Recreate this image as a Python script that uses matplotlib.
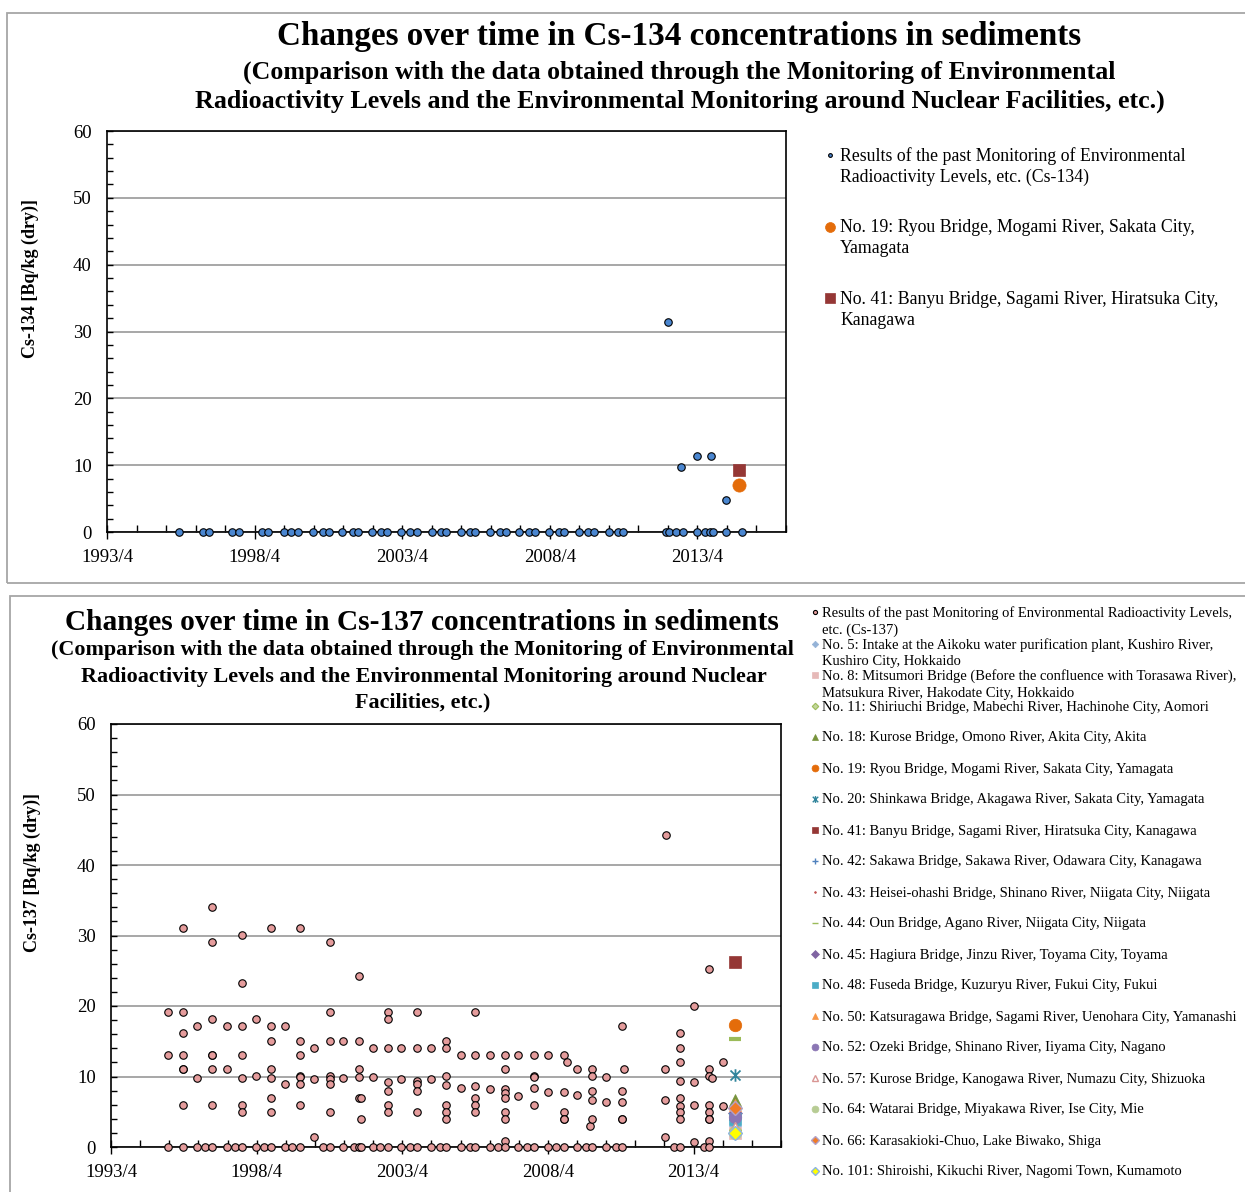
import matplotlib
matplotlib.use("Agg")
import matplotlib.pyplot as plt
from matplotlib.patches import Rectangle
from matplotlib.lines import Line2D
from matplotlib.path import Path

# ---------------- data ----------------
x_major = [1993.25, 1998.25, 2003.25, 2008.25, 2013.25]
x_labels = ["1993/4", "1998/4", "2003/4", "2008/4", "2013/4"]
x_minor = [1993.25 + i for i in range(24)]
y_major = [0, 10, 20, 30, 40, 50, 60]

# Cs-134, past monitoring results
cs134_past_dates = [1995.70, 1996.49, 1996.72, 1997.50, 1997.73, 1998.49, 1998.72, 1999.23,
                    1999.49, 1999.73, 2000.23, 2000.55, 2000.76, 2001.21, 2001.59, 2001.75,
                    2002.23, 2002.54, 2002.75, 2003.21, 2003.52, 2003.74, 2004.25, 2004.57,
                    2004.73, 2005.23, 2005.55, 2005.72, 2006.23, 2006.55, 2006.75, 2007.21,
                    2007.53, 2007.74, 2008.23, 2008.55, 2008.74, 2009.23, 2009.54, 2009.73,
                    2010.24, 2010.56, 2010.74, 2012.18, 2012.27, 2012.52, 2012.75, 2013.25,
                    2013.51, 2013.67, 2013.78, 2014.23, 2014.75,
                    2012.24, 2012.70, 2013.24, 2013.70, 2014.23]
cs134_past_values = [0, 0, 0, 0, 0, 0, 0, 0,
                     0, 0, 0, 0, 0, 0, 0, 0,
                     0, 0, 0, 0, 0, 0, 0, 0,
                     0, 0, 0, 0, 0, 0, 0, 0,
                     0, 0, 0, 0, 0, 0, 0, 0,
                     0, 0, 0, 0, 0, 0, 0, 0,
                     0, 0, 0, 0, 0,
                     31.4, 9.7, 11.4, 11.4, 4.8]

new_survey_date = 2014.67
cs134_sites = ["No. 19: Ryou Bridge, Mogami River, Sakata City,\nYamagata",
               "No. 41: Banyu Bridge, Sagami River, Hiratsuka City,\nKanagawa"]
cs134_new_values = [7.0, 9.3]

# Cs-137, past monitoring results (survey date -> values measured at that date)
cs137_past_dates = [1995.19, 1995.71, 1996.20, 1996.48, 1996.73, 1997.22, 1997.51, 1997.73,
                    1998.22, 1998.50, 1998.74, 1999.23, 1999.47, 1999.73, 2000.22, 2000.54,
                    2000.76, 2001.22, 2001.60, 2001.76, 2001.82, 2002.23, 2002.50, 2002.76,
                    2003.22, 2003.51, 2003.74, 2004.25, 2004.53, 2004.76, 2005.25, 2005.59,
                    2005.76, 2006.25, 2006.54, 2006.76, 2007.23, 2007.53, 2007.76, 2008.25,
                    2008.53, 2008.79, 2008.90, 2009.25, 2009.56, 2009.71, 2009.77, 2010.25,
                    2010.57, 2010.79, 2010.86, 2012.27, 2012.31, 2012.56, 2012.77, 2013.27,
                    2013.60, 2013.79, 2013.88, 2014.25]
cs137_past_values = [
    [19.1, 13.1, 0], [31.1, 19.1, 16.1, 13.1, 11.1, 11.1, 6.0, 0], [17.1, 9.8, 0], [0],
    [34.1, 29.1, 18.1, 13.1, 13.1, 11.1, 6.0, 0], [17.1, 11.1, 0], [0],
    [30.1, 23.2, 17.1, 13.1, 9.8, 6.0, 5.0, 0],
    [18.1, 10.1, 0], [0], [31.1, 17.1, 15.1, 11.1, 9.8, 7.0, 5.0, 0], [17.1, 9.0, 0], [0],
    [31.1, 15.1, 13.1, 10.1, 9.9, 9.0, 6.0, 0], [14.1, 9.6, 1.4], [0],
    [29.1, 19.1, 15.1, 10.1, 9.7, 9.0, 5.0, 0], [15.1, 9.8, 0], [0],
    [24.2, 15.1, 11.1, 9.9, 7.0, 0], [7.0, 4.0, 0], [14.1, 9.9, 0], [0],
    [19.1, 18.1, 14.1, 9.2, 8.0, 6.0, 5.0, 0],
    [14.1, 9.6, 0], [0], [19.1, 14.1, 9.4, 9.0, 8.0, 5.0, 0], [14.1, 9.6, 0], [0],
    [15.1, 14.1, 10.1, 8.8, 6.0, 5.0, 4.0, 0], [13.1, 8.4, 0], [0],
    [19.1, 13.1, 8.6, 7.0, 6.0, 5.0, 0], [13.1, 8.2, 0], [0],
    [13.1, 11.1, 8.2, 7.6, 7.0, 5.0, 4.0, 0.9, 0], [13.1, 7.2, 0], [0],
    [13.1, 10.1, 9.9, 8.4, 6.0, 0], [13.1, 7.8, 0],
    [0], [13.1, 7.8, 5.0, 4.0, 4.0, 0], [12.1], [11.1, 7.4, 0], [0], [3.0],
    [11.1, 10.1, 8.0, 6.6, 4.0, 0], [9.9, 6.4, 0],
    [0], [17.1, 8.0, 6.4, 4.0, 4.0, 0], [11.1], [11.1, 6.6, 1.4], [44.2], [0],
    [16.1, 14.1, 12.1, 9.4, 7.0, 5.8, 5.0, 4.0, 0], [20.0, 9.2, 6.0, 0.7],
    [0], [25.2, 11.1, 10.1, 6.0, 5.0, 4.0, 4.0, 0.9, 0], [9.8], [12.1, 5.8]]

cs137_sites = [
    "No. 5: Intake at the Aikoku water purification plant, Kushiro River,\nKushiro City, Hokkaido",
    "No. 8: Mitsumori Bridge (Before the confluence with Torasawa River),\nMatsukura River, Hakodate City, Hokkaido",
    "No. 11: Shiriuchi Bridge, Mabechi River, Hachinohe City, Aomori",
    "No. 18: Kurose Bridge, Omono River, Akita City, Akita",
    "No. 19: Ryou Bridge, Mogami River, Sakata City, Yamagata",
    "No. 20: Shinkawa Bridge, Akagawa River, Sakata City, Yamagata",
    "No. 41: Banyu Bridge, Sagami River, Hiratsuka City, Kanagawa",
    "No. 42: Sakawa Bridge, Sakawa River, Odawara City, Kanagawa",
    "No. 43: Heisei-ohashi Bridge, Shinano River, Niigata City, Niigata",
    "No. 44: Oun Bridge, Agano River, Niigata City, Niigata",
    "No. 45: Hagiura Bridge, Jinzu River, Toyama City, Toyama",
    "No. 48: Fuseda Bridge, Kuzuryu River, Fukui City, Fukui",
    "No. 50: Katsuragawa Bridge, Sagami River, Uenohara City, Yamanashi",
    "No. 52: Ozeki Bridge, Shinano River, Iiyama City, Nagano",
    "No. 57: Kurose Bridge, Kanogawa River, Numazu City, Shizuoka",
    "No. 64: Watarai Bridge, Miyakawa River, Ise City, Mie",
    "No. 66: Karasakioki-Chuo, Lake Biwako, Shiga",
    "No. 101: Shiroishi, Kikuchi River, Nagomi Town, Kumamoto"]
cs137_new_values = [3.0, 2.0, 2.4, 6.6, 17.3, 10.2, 26.3, 3.9, 3.5, 15.3,
                    4.8, 4.0, 5.9, 4.3, 2.8, 2.0, 5.6, 2.0]

past134_label = "Results of the past Monitoring of Environmental\nRadioactivity Levels, etc. (Cs-134)"
past137_label = "Results of the past Monitoring of Environmental Radioactivity Levels,\netc. (Cs-137)"

# ---------------- styles ----------------
W, H, DPI = 1245, 1192, 100
plt.rcParams['font.family'] = ['Liberation Serif', 'DejaVu Serif']

star = Path([(-1, -1), (1, 1), (-1, 1), (1, -1), (0, -1.25), (0, 1.25)],
            [Path.MOVETO, Path.LINETO] * 3)

past134_style = dict(marker='o', ms=5.4, mfc='#4A86D0', mec='black', mew=0.8)
past137_style = dict(marker='o', ms=5.4, mfc='#E59C9C', mec='black', mew=0.8)
cs134_new_styles = [dict(marker='o', ms=9.5, mfc='#E46C0A', mec='#E46C0A', mew=0.5),
                    dict(marker='s', ms=9.0, mfc='#953735', mec='#953735', mew=0.5)]
cs137_new_styles = [
    dict(marker='D', ms=6, mfc='#95B3D7', mec='#95B3D7', mew=0.5),
    dict(marker='s', ms=8, mfc='#E6B9B8', mec='#E6B9B8', mew=0.5),
    dict(marker='D', ms=6, mfc='#C3D69B', mec='#9BBB59', mew=0.8),
    dict(marker='^', ms=9, mfc='#77933C', mec='#77933C', mew=0.5),
    dict(marker='o', ms=9, mfc='#E46C0A', mec='#E46C0A', mew=0.5),
    dict(marker=star, ms=9, mfc='none', mec='#31859C', mew=1.3),
    dict(marker='s', ms=8.5, mfc='#953735', mec='#953735', mew=0.5),
    dict(marker='+', ms=8, mfc='none', mec='#4F81BD', mew=1.3),
    dict(marker='.', ms=3, mfc='#C0504D', mec='#C0504D', mew=0.5),
    dict(marker='_', ms=9, mfc='none', mec='#9BBB59', mew=3),
    dict(marker='D', ms=7, mfc='#8064A2', mec='#8064A2', mew=0.5),
    dict(marker='s', ms=8, mfc='#4BACC6', mec='#4BACC6', mew=0.5),
    dict(marker='^', ms=9, mfc='#F79646', mec='#F79646', mew=0.5),
    dict(marker='o', ms=9, mfc='#8B76B4', mec='#8B76B4', mew=0.5),
    dict(marker='^', ms=7, mfc='white', mec='#D99694', mew=1.0),
    dict(marker='o', ms=9, mfc='#B7CC94', mec='#B7CC94', mew=0.5),
    dict(marker='D', ms=7, mfc='#F07B26', mec='#B3A2C7', mew=1.0),
    dict(marker='D', ms=7, mfc='#FFFF00', mec='#8DB4E2', mew=1.0)]

fig = plt.figure(figsize=(W / DPI, H / DPI), dpi=DPI)
fig.patch.set_facecolor('white')
renderer = fig.canvas.get_renderer()


def fx(px):
    return px / W


def fy(py):
    return 1 - py / H


def fit_text(x, y, s, target_w, size=16, **kw):
    t = fig.text(fx(x), fy(y), s, ha='center', va='center', fontsize=size, **kw)
    bb = t.get_window_extent(renderer)
    t.set_fontsize(size * target_w / bb.width)
    return t


# panel borders
fig.add_artist(Rectangle((fx(7), fy(583)), fx(1300) - fx(7), fy(13) - fy(583),
                         transform=fig.transFigure, fill=False, ec='#a6a6a6', lw=1.3))
fig.add_artist(Rectangle((fx(10), fy(1250)), fx(1300) - fx(10), fy(596) - fy(1250),
                         transform=fig.transFigure, fill=False, ec='#a6a6a6', lw=1.3))


def style_axes(ax):
    ax.set_xlim(1993.25, 2016.25)
    ax.set_ylim(0, 60)
    ax.set_xticks(x_major)
    ax.set_xticklabels(x_labels)
    ax.set_xticks(x_minor, minor=True)
    ax.set_yticks(y_major)
    ax.set_yticks(list(range(0, 61, 2)), minor=True)
    ax.yaxis.grid(True, which='major', color='#a0a0a0', lw=1.3)
    ax.set_axisbelow(True)
    for sp in ax.spines.values():
        sp.set_color('black')
        sp.set_linewidth(1.2)
    ax.tick_params(axis='y', which='both', direction='in', length=4, width=1,
                   labelsize=13.5, pad=11, right=False)
    ax.tick_params(axis='x', which='major', direction='inout', length=10, width=1,
                   labelsize=13.5, pad=7, top=False)
    ax.tick_params(axis='x', which='minor', direction='in', length=5, width=1, top=False)


# ---------------- top chart (Cs-134) ----------------
ax1 = fig.add_axes([fx(107), fy(532), fx(786) - fx(107), fy(131) - fy(532)])
style_axes(ax1)
ax1.plot(cs134_past_dates, cs134_past_values, ls='none', clip_on=False, zorder=3,
         **past134_style)
for v, st in zip(cs134_new_values, cs134_new_styles):
    ax1.plot([new_survey_date], [v], ls='none', clip_on=False, zorder=4, **st)

fig.text(fx(30), fy(279), "Cs-134 [Bq/kg (dry)]", rotation=90, ha='center', va='center',
         fontsize=13, fontweight='bold')
fit_text(679, 37, "Changes over time in Cs-134 concentrations in sediments", 808,
         fontweight='bold')
fit_text(679.5, 72, "(Comparison with the data obtained through the Monitoring of Environmental",
         873, fontweight='bold')
fit_text(679.5, 101, "Radioactivity Levels and the Environmental Monitoring around Nuclear Facilities, etc.)",
         973, fontweight='bold')

# top legend
leg134 = [(past134_label, past134_style, 155, 0.5)] + \
         [(lab, st, yy, 0.75) for lab, st, yy in zip(cs134_sites, cs134_new_styles, [227, 298])]
for lab, st, yy, sc in leg134:
    st2 = dict(st)
    st2['ms'] = st['ms'] * sc
    fig.add_artist(Line2D([fx(830)], [fy(yy)], transform=fig.transFigure, ls='none', **st2))
    for k, line in enumerate(lab.split("\n")):
        fig.text(fx(840), fy(yy + 1 + 21 * k), line, ha='left', va='center', fontsize=12.8)

# ---------------- bottom chart (Cs-137) ----------------
ax2 = fig.add_axes([fx(111), fy(1147), fx(781) - fx(111), fy(724) - fy(1147)])
style_axes(ax2)
px, py = [], []
for d, vals in zip(cs137_past_dates, cs137_past_values):
    for v in vals:
        px.append(d)
        py.append(v)
ax2.plot(px, py, ls='none', clip_on=False, zorder=3, **past137_style)
for v, st in zip(cs137_new_values, cs137_new_styles):
    ax2.plot([new_survey_date], [v], ls='none', clip_on=False, zorder=4, **st)

fig.text(fx(32), fy(872), "Cs-137 [Bq/kg (dry)]", rotation=90, ha='center', va='center',
         fontsize=13, fontweight='bold')
fit_text(422, 622, "Changes over time in Cs-137 concentrations in sediments", 715,
         fontweight='bold')
t1 = fit_text(422, 650, "(Comparison with the data obtained through the Monitoring of Environmental",
              741, fontweight='bold')
fit_text(424, 677, "Radioactivity Levels and the Environmental Monitoring around Nuclear",
         688, fontweight='bold')
fig.text(fx(423), fy(702), "Facilities, etc.)", ha='center', va='center',
         fontsize=t1.get_fontsize(), fontweight='bold')

# bottom legend
leg_y = [612, 644, 675, 706, 737, 768, 799, 830, 861, 892, 923, 954, 985, 1016,
         1047, 1078, 1109, 1140, 1171]
leg137 = [(past137_label, past137_style)] + list(zip(cs137_sites, cs137_new_styles))
for (lab, st), yy in zip(leg137, leg_y):
    st2 = dict(st)
    st2['ms'] = max(st['ms'] * 0.55, 2.5)
    st2['mew'] = min(st['mew'], 1.0)
    fig.add_artist(Line2D([fx(815)], [fy(yy)], transform=fig.transFigure, ls='none', **st2))
    for k, line in enumerate(lab.split("\n")):
        fig.text(fx(822), fy(yy + 1 + 17 * k), line, ha='left', va='center', fontsize=10.55)

fig.savefig("out.png", dpi=DPI)
